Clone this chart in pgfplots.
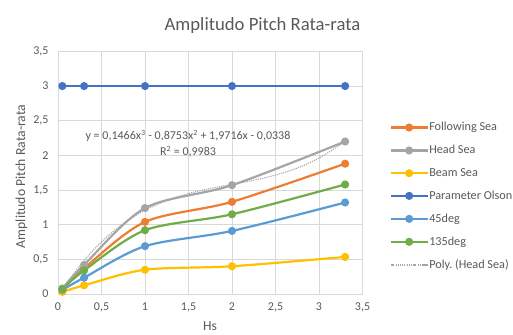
\documentclass[border=0pt]{standalone}
\usepackage{pgfplots}
\pgfplotsset{compat=1.18}
\usepackage{fontspec}
\setmainfont{Carlito}
\definecolor{corange}{HTML}{ED7D31}
\definecolor{cgray}{HTML}{A5A5A5}
\definecolor{cgold}{HTML}{FFC000}
\definecolor{cblue}{HTML}{4472C4}
\definecolor{clblue}{HTML}{5B9BD5}
\definecolor{cgreen}{HTML}{70AD47}
\definecolor{ctext}{HTML}{595959}
\definecolor{cgrid}{HTML}{D9D9D9}
\begin{document}
\begin{tikzpicture}
\path[use as bounding box] (0,0) rectangle (513pt,334pt);
\begin{axis}[
  at={(58pt,40pt)}, anchor=south west,
  width=304.5pt, height=242.6pt, scale only axis,
  xmin=0, xmax=3.5, ymin=0, ymax=3.5,
  xtick={0,0.5,1,1.5,2,2.5,3,3.5},
  xticklabels={0,{0,5},1,{1,5},2,{2,5},3,{3,5}},
  ytick={0,0.5,1,1.5,2,2.5,3,3.5},
  yticklabels={0,{0,5},1,{1,5},2,{2,5},3,{3,5}},
  grid=major,
  grid style={draw=cgrid, line width=0.8pt},
  axis line style={draw=cgrid, line width=0.8pt},
  tick style={draw=none},
  /pgf/number format/assume math mode=true,
  ticklabel style={font=\fontsize{12}{14}\selectfont, text=ctext},
  xticklabel style={yshift=-5pt},
  yticklabel style={xshift=-6pt},
  every axis plot/.append style={line width=2.2pt, mark=*, mark size=2.9pt, mark options={solid}},
  legend style={draw=none, fill=none, at={(1.08,0.72)}, anchor=north west,
    font=\fontsize{12.2}{14}\selectfont, text=ctext, row sep=11pt,
    nodes={inner sep=1pt}},
  legend cell align=left,
  legend image code/.code={\draw[#1, mark repeat=2, mark phase=2] plot coordinates {(0pt,0pt)(18pt,0pt)(36pt,0pt)};},
]
\addplot[color=corange, smooth] coordinates {(0.05,0.07) (0.3,0.37) (1,1.04) (2,1.33) (3.3,1.88)};
\addlegendentry{Following Sea}
\addplot[color=cgray, smooth] coordinates {(0.05,0.08) (0.3,0.42) (1,1.24) (2,1.57) (3.3,2.20)};
\addlegendentry{Head Sea}
\addplot[color=cgold, smooth] coordinates {(0.05,0.03) (0.3,0.125) (1,0.35) (2,0.40) (3.3,0.535)};
\addlegendentry{Beam Sea}
\addplot[color=cblue, smooth] coordinates {(0.05,3) (0.3,3) (1,3) (2,3) (3.3,3)};
\addlegendentry{Parameter Olson}
\addplot[color=clblue, smooth] coordinates {(0.05,0.06) (0.3,0.235) (1,0.69) (2,0.91) (3.3,1.32)};
\addlegendentry{45deg}
\addplot[color=cgreen, smooth] coordinates {(0.05,0.07) (0.3,0.34) (1,0.92) (2,1.15) (3.3,1.58)};
\addlegendentry{135deg}
\addplot[color=cgray, no marks, line width=1.1pt, dash pattern=on 1.1pt off 1.1pt, smooth] coordinates {
 (0.05,0.0626) (0.2,0.3267) (0.4,0.6242) (0.6,0.8657) (0.8,1.0583) (1.0,1.2091)
 (1.2,1.3250) (1.4,1.4131) (1.6,1.4805) (1.8,1.5341) (2.0,1.5810) (2.2,1.6282)
 (2.4,1.6829) (2.6,1.7520) (2.8,1.8424) (3.0,1.9615) (3.2,2.1160) (3.3,2.2080)};
\addlegendentry{Poly.\ (Head Sea)}
\node[font=\fontsize{12}{14}\selectfont, text=ctext, anchor=base] at (axis cs:1.494,2.225) {y = 0,1466x\textsuperscript{3} - 0,8753x\textsuperscript{2} + 1,9716x - 0,0338};
\node[font=\fontsize{12}{14}\selectfont, text=ctext, anchor=base] at (axis cs:1.494,2.0) {R\textsuperscript{2} = 0,9983};
\end{axis}
\node[font=\fontsize{18.7}{22}\selectfont, text=ctext, anchor=base] at (262.5pt,303.5pt) {Amplitudo Pitch Rata-rata};
\node[font=\fontsize{13.7}{16}\selectfont, text=ctext, rotate=90, anchor=center] at (21.5pt,157.5pt) {Amplitudo Pitch Rata-rata};
\node[font=\fontsize{13.7}{16}\selectfont, text=ctext, anchor=base] at (210pt,3.5pt) {Hs};
\end{tikzpicture}
\end{document}
